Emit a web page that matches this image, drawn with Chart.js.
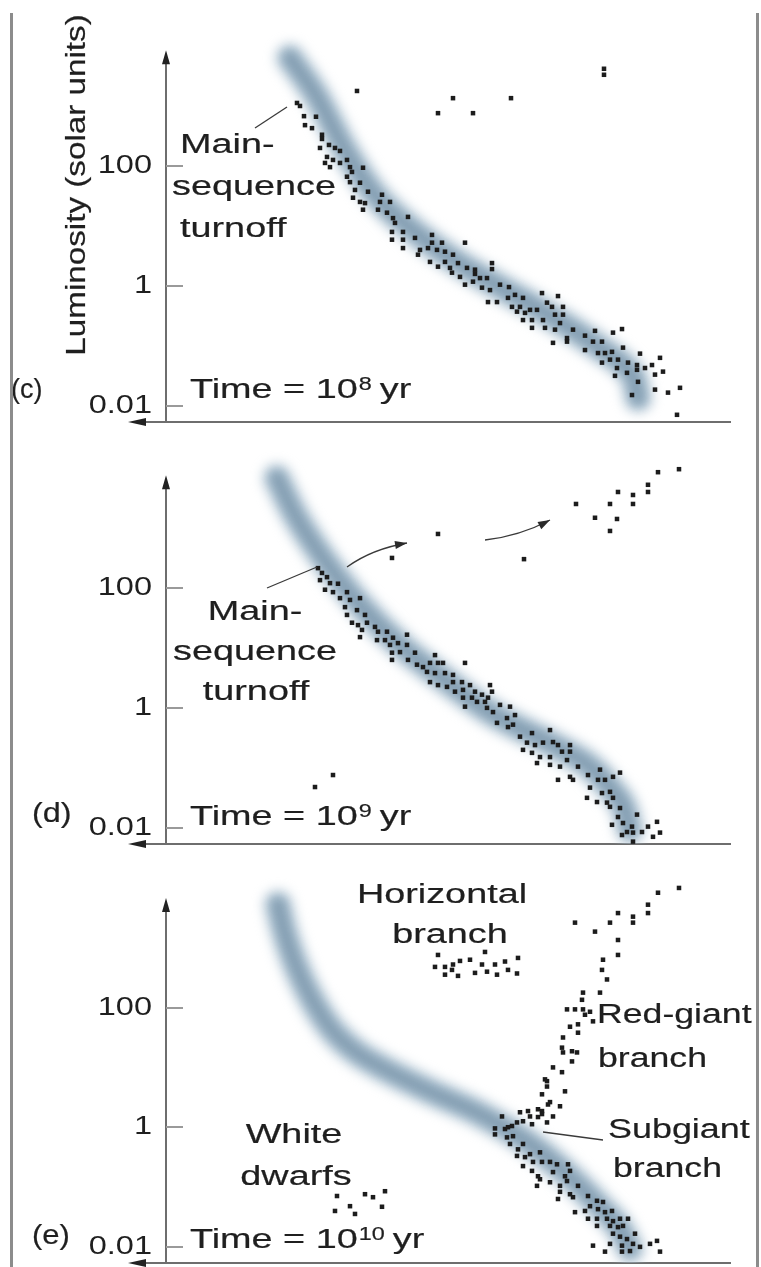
<!DOCTYPE html>
<html>
<head>
<meta charset="utf-8">
<script src="https://cdn.jsdelivr.net/npm/chart.js@4.4.0/dist/chart.umd.min.js"></script>
<style>
  html, body { margin: 0; padding: 0; background: #fff; }
  #page { position: relative; width: 761px; height: 1267px; overflow: hidden; }
  #page canvas { position: absolute; left: 0; }
  .frame { position: absolute; top: 13px; width: 3px; height: 1254px; background: #8c8c8c; }
</style>
</head>
<body>
<div id="page">
  <canvas id="panelC" width="761" height="430" style="top:0px"></canvas>
  <canvas id="panelD" width="761" height="420" style="top:430px"></canvas>
  <canvas id="panelE" width="761" height="417" style="top:850px"></canvas>
  <div class="frame" style="left:10px"></div>
  <div class="frame" style="left:756px"></div>
</div>
<script>
// luminosity axis (solar units)
const tickValues = [0.01, 1, 100];
const tickLabels = ["0.01", "1", "100"];
const panelLetters = ["(c)", "(d)", "(e)"];
const panelExponents = ["8", "9", "10"];

// stars: [colour position (arbitrary, hot -> cool), log10 luminosity]
const cMainSeq = [
  [26.2,3.05],[26.8,3.00],[27.6,2.83],[30.0,2.82],[27.8,2.68],[29.2,2.63],[31.2,2.52],[31.2,2.45],[32.6,2.35],[30.8,2.30],
  [33.8,2.30],[34.8,2.25],[32.2,2.15],[33.4,2.10],[36.2,2.10],[31.8,2.05],[32.8,1.98],[34.8,2.05],[36.8,1.98],[37.2,1.90],
  [39.4,1.97],[36.2,1.82],[36.8,1.73],[38.8,1.72],[40.4,1.57],[37.8,1.60],[37.4,1.47],[38.8,1.40],[39.8,1.38],[39.4,1.27],
  [43.2,1.52],[42.8,1.40],[44.8,1.40],[42.4,1.27],[44.2,1.22],[45.4,1.13],[48.4,1.15],[45.8,1.05],[45.2,0.90],[47.4,0.90],
  [45.2,0.77],[47.4,0.77],[49.8,0.80],[47.4,0.63],[50.8,0.60],[50.4,0.52],[53.2,0.85],[53.2,0.72],[52.4,0.63],[55.2,0.72],
  [54.2,0.60],[55.8,0.57],[59.8,0.72],[57.4,0.52],[52.8,0.40],[54.4,0.32],[55.8,0.40],[56.8,0.30],[58.4,0.38],[60.2,0.30],
  [57.2,0.22],[58.8,0.15],[59.8,0.02],[61.4,0.07],[61.8,0.27],[62.8,0.13],[65.2,0.38],[65.2,0.28],[61.8,0.20],[64.2,0.13],
  [63.2,-0.03],[64.8,-0.07],[66.8,0.02],[68.6,-0.02],[64.4,-0.27],[66.2,-0.27],[68.4,-0.20],[69.8,-0.15],[71.4,-0.20],[69.2,-0.35],
  [70.8,-0.35],[70.2,-0.43],[71.8,-0.45],[72.8,-0.40],[74.2,-0.40],[71.4,-0.57],[73.2,-0.57],[73.2,-0.70],[75.2,-0.12],[78.4,-0.17],
  [76.2,-0.28],[77.2,-0.35],[79.4,-0.35],[77.8,-0.48],[79.4,-0.48],[75.4,-0.57],[75.8,-0.70],[77.8,-0.73],[78.8,-0.62],[81.4,-0.73],
  [80.2,-0.87],[80.2,-0.93],[77.4,-0.95],[83.8,-0.83],[85.8,-0.75],[85.4,-0.93],[87.2,-0.93],[83.8,-1.07],[86.4,-1.12],[87.8,-1.12],
  [89.2,-1.10],[89.4,-0.78],[91.2,-0.72],[91.4,-1.03],[94.8,-1.13],[87.2,-1.28],[88.8,-1.23],[90.4,-1.23],[92.4,-1.28],[94.2,-1.32],
  [90.2,-1.37],[92.2,-1.45],[89.8,-1.50],[94.2,-1.40],[95.8,-1.37],[97.2,-1.32],[98.8,-1.20],[99.4,-1.43],[97.8,-1.48],[94.4,-1.60],
  [97.8,-1.73],[100.4,-1.78],[102.8,-1.70],[93.2,-1.82],[102.2,-2.15]
];
const cGiants = [[38.2,3.25],[54.4,2.88],[57.4,3.13],[61.4,2.88],[69.0,3.13],[87.6,3.62],[87.6,3.52]];
const cBand = [
  [24.8,3.80],[30.0,3.18],[35.8,2.27],[41.8,1.52],[49.8,0.90],[58.2,0.40],[66.8,-0.02],
  [74.2,-0.37],[80.8,-0.70],[87.4,-1.07],[91.8,-1.35],[93.8,-1.60],[94.4,-1.87]
];

const dMainSeq = [
  [30.4,2.33],[31.2,2.25],[32.2,2.18],[30.8,2.13],[32.8,2.08],[34.4,2.07],[31.8,1.97],[33.4,1.93],[36.2,1.93],[34.8,1.83],
  [36.8,1.80],[38.8,1.83],[35.8,1.68],[38.2,1.63],[36.2,1.55],[39.8,1.55],[37.2,1.42],[38.4,1.38],[40.2,1.42],[39.2,1.30],
  [38.8,1.18],[41.8,1.35],[42.4,1.27],[44.2,1.27],[42.2,1.13],[43.8,1.13],[45.4,1.17],[44.8,1.05],[46.4,1.08],[48.2,1.22],
  [45.2,0.92],[46.8,0.93],[48.2,1.05],[45.2,0.80],[48.4,0.80],[49.8,0.92],[50.2,0.72],[51.4,0.68],[53.8,0.88],[52.8,0.75],
  [54.4,0.75],[55.4,0.75],[52.2,0.60],[53.8,0.58],[55.8,0.58],[59.8,0.75],[57.4,0.55],[52.8,0.43],[54.4,0.38],[56.2,0.35],
  [57.4,0.43],[59.2,0.43],[57.8,0.27],[59.4,0.30],[60.8,0.38],[61.8,0.27],[59.4,0.17],[61.2,0.17],[63.2,0.22],[64.8,0.38],
  [65.2,0.27],[62.2,0.10],[63.8,0.10],[59.8,0.02],[64.2,0.00],[65.4,-0.07],[64.4,0.17],[66.8,0.05],[68.8,0.02],[66.2,-0.25],
  [68.2,-0.17],[69.8,-0.12],[68.4,-0.32],[69.4,-0.28],[70.8,-0.48],[73.2,-0.42],[72.2,-0.58],[73.8,-0.62],[75.4,-0.58],[76.8,-0.37],
  [77.4,-0.57],[78.4,-0.62],[80.8,-0.62],[71.4,-0.70],[73.2,-0.75],[74.8,-0.82],[74.2,-0.92],[76.8,-0.82],[76.8,-0.95],[79.2,-0.73],
  [80.8,-0.73],[80.2,-0.87],[78.8,-0.98],[82.4,-0.98],[78.4,-1.20],[80.8,-1.15],[81.4,-1.20],[84.4,-1.12],[86.8,-1.03],[86.4,-1.20],
  [87.8,-1.20],[89.4,-1.15],[90.8,-1.08],[84.8,-1.33],[87.2,-1.42],[88.8,-1.40],[89.4,-1.50],[84.2,-1.50],[86.2,-1.57],[88.2,-1.58],
  [88.8,-1.65],[90.8,-1.67],[90.4,-1.82],[94.2,-1.78],[89.2,-1.95],[91.4,-1.92],[92.2,-2.07],[93.2,-1.98],[93.4,-2.08],[95.2,-2.07],
  [96.4,-1.98],[98.2,-1.90],[97.4,-2.15],[98.8,-2.08],[93.4,-2.23],[91.2,-2.12]
];
const dGiants = [
  [45.2,2.50],[54.4,2.90],[71.6,2.48],[82.0,3.40],[85.8,3.17],[88.8,3.40],[90.2,3.15],[88.8,2.95],
  [90.4,3.60],[93.4,3.55],[93.4,3.40],[96.4,3.72],[96.4,3.60],[98.4,3.93],[102.6,3.98]
];
const dDwarfs = [[29.8,-1.32],[33.4,-1.12]];
const dBand = [
  [22.2,3.83],[25.8,3.22],[31.4,2.50],[38.8,1.72],[46.8,1.05],[55.8,0.47],[64.8,-0.07],
  [78.2,-0.65],[84.8,-0.98],[89.2,-1.37],[91.8,-1.70],[92.8,-2.03]
];

const eMainSeq = [
  [67.2,0.18],[65.8,-0.02],[65.8,-0.12],[68.4,0.00],[68.2,-0.17],[69.4,-0.15],[68.8,-0.28],[70.4,-0.37],[71.4,-0.28],[70.2,-0.48],
  [71.8,-0.50],[72.8,-0.45],[74.8,-0.42],[73.4,-0.58],[75.2,-0.58],[71.4,-0.65],[73.2,-0.73],[74.4,-0.82],[76.8,-0.58],[78.2,-0.62],
  [80.4,-0.62],[80.8,-0.73],[77.4,-0.75],[79.8,-0.82],[74.8,-0.87],[76.8,-0.92],[74.2,-0.98],[78.8,-0.98],[80.2,-0.90],[82.4,-0.98],
  [78.8,-1.08],[80.8,-1.12],[81.4,-1.17],[78.4,-1.20],[84.4,-1.15],[86.2,-1.23],[87.4,-1.25],[81.8,-1.42],[83.8,-1.40],[84.8,-1.32],
  [86.4,-1.37],[87.8,-1.42],[89.2,-1.40],[84.4,-1.53],[86.2,-1.53],[88.2,-1.53],[89.4,-1.57],[90.8,-1.53],[92.4,-1.53],[86.2,-1.65],
  [88.8,-1.65],[90.4,-1.67],[91.4,-1.65],[93.8,-1.78],[89.4,-1.78],[90.8,-1.83],[92.2,-1.87],[85.4,-1.98],[88.8,-1.95],[91.2,-1.98],
  [93.4,-1.95],[94.8,-2.00],[96.8,-1.95],[98.2,-1.90],[87.8,-2.08],[91.2,-2.08],[92.8,-2.07],[98.8,-2.08]
];
const eRedGiants = [
  [70.8,0.25],[72.4,0.27],[72.8,0.18],[74.4,0.17],[70.2,0.08],[71.4,0.10],[73.2,0.05],[76.2,0.08],[77.4,0.18],[75.2,0.27],
  [76.4,0.38],[78.8,0.35],[75.2,0.55],[76.2,0.68],[76.2,0.77],[79.8,0.60],[69.2,0.02],[67.8,-0.03],[74.4,0.30],[75.2,0.22],
  [76.8,0.42],[75.8,0.80],[79.2,0.92],[77.4,1.00],[81.2,1.10],[81.2,1.27],[82.2,1.25],[79.4,1.25],[79.2,1.33],[79.4,1.50],
  [82.4,1.58],[82.4,1.72],[80.8,1.68],[85.4,1.77],[83.8,1.88],[84.8,1.93],[83.4,1.97],[81.8,1.97],[80.2,1.97],[83.2,2.13],
  [83.4,2.25],[86.8,2.25],[88.2,2.47],[87.2,2.63],[87.4,2.80],[90.4,2.88],[90.4,3.13],[81.8,3.42],[85.8,3.27],[88.8,3.42],
  [90.4,3.58],[93.4,3.52],[93.4,3.42],[96.4,3.72],[96.4,3.58],[98.4,3.92],[102.6,4.00]
];
const eHorizontal = [
  [54.4,2.88],[53.8,2.68],[55.8,2.68],[55.8,2.55],[57.4,2.72],[58.4,2.53],[58.8,2.78],[60.8,2.80],[61.8,2.58],[63.8,2.93],
  [63.2,2.72],[64.2,2.60],[65.8,2.72],[66.2,2.55],[67.8,2.77],[68.4,2.63],[70.2,2.57],[70.4,2.83],[57.2,2.63]
];
const eWhiteDwarfs = [[34.2,-1.15],[39.8,-1.12],[41.4,-1.17],[43.8,-1.07],[33.8,-1.40],[36.8,-1.32],[37.8,-1.45],[43.2,-1.33]];
const eBand = [
  [22.4,3.72],[23.6,3.30],[25.2,2.88],[27.2,2.47],[29.8,2.05],[33.2,1.63],[37.8,1.27],[43.8,0.97],[52.8,0.60],
  [62.8,0.22],[72.8,-0.28],[80.8,-0.83],[86.8,-1.33],[90.8,-1.70],[92.8,-2.03]
];

const ink = "#1f1f1f";
const family = '"Liberation Sans", Arial, Helvetica, sans-serif';

function toPoints(list) {
  return list.map((p) => ({ x: p[0], y: Math.pow(10, p[1]) }));
}

function drawText(ctx, str, x, y, o) {
  o = o || {};
  const size = o.size || 27;
  const sx = o.sx || 1.4;
  ctx.save();
  ctx.font = size + "px " + family;
  const w = ctx.measureText(str).width * sx;
  const left = o.align === "center" ? x - w / 2 : x;
  ctx.translate(left, y);
  ctx.scale(sx, 1);
  ctx.fillStyle = ink;
  ctx.strokeStyle = ink;
  ctx.lineWidth = 0.2;
  ctx.textAlign = "left";
  ctx.textBaseline = "alphabetic";
  ctx.fillText(str, 0, 0);
  ctx.strokeText(str, 0, 0);
  ctx.restore();
  return left + w;
}

function arrowHead(ctx, x, y, angle, len, half) {
  ctx.save();
  ctx.translate(x, y);
  ctx.rotate(angle);
  ctx.beginPath();
  ctx.moveTo(0, 0);
  ctx.lineTo(-len, -half);
  ctx.lineTo(-len, half);
  ctx.closePath();
  ctx.fill();
  ctx.restore();
}

// wider tick digits, like the printed figure
const stretchTicks = {
  id: "stretchTicks",
  afterUpdate(chart) {
    const s = chart.scales.y;
    if (s._stretched) return;
    const orig = s.drawLabels.bind(s);
    s.drawLabels = function (area) {
      const ctx = this.ctx;
      const r = this.right - 14;
      ctx.save();
      ctx.translate(r, 0);
      ctx.scale(1.25, 1);
      ctx.translate(-r, 0);
      orig(area);
      ctx.restore();
    };
    s._stretched = true;
  },
};

// soft edge for the main-sequence band
const bandBlur = {
  id: "bandBlur",
  beforeDatasetDraw(chart, args) {
    const b = chart.data.datasets[args.index].blur;
    if (b) {
      chart.ctx.save();
      chart.ctx.filter = "blur(" + b + "px)";
    }
  },
  afterDatasetDraw(chart, args) {
    if (chart.data.datasets[args.index].blur) chart.ctx.restore();
  },
};

function makeAxes(panel) {
  return {
    id: "hrAxes",
    beforeDatasetsDraw(chart) {
      const ctx = chart.ctx;
      const a = chart.chartArea;
      const y = chart.scales.y;
      const tipY = y.getPixelForValue(Math.pow(10, panel.arrowTip));
      ctx.save();
      ctx.strokeStyle = "#6e6e6e";
      ctx.lineWidth = 2;
      ctx.beginPath();
      ctx.moveTo(a.left, a.bottom);
      ctx.lineTo(a.left, tipY + 12);
      ctx.moveTo(a.left - 22, a.bottom);
      ctx.lineTo(a.right, a.bottom);
      ctx.stroke();
      ctx.fillStyle = "#222";
      arrowHead(ctx, a.left, tipY, -Math.PI / 2, 14, 4);
      arrowHead(ctx, a.left - 38, a.bottom, Math.PI, 18, 4);
      ctx.strokeStyle = "#9a9a9a";
      y.ticks.forEach((t) => {
        const py = Math.round(y.getPixelForValue(t.value));
        ctx.beginPath();
        ctx.moveTo(a.left, py);
        ctx.lineTo(a.left + 17, py);
        ctx.stroke();
      });
      ctx.restore();
    },
  };
}

function makeNotes(panel) {
  return {
    id: "hrNotes",
    afterDraw(chart) {
      const ctx = chart.ctx;
      ctx.save();
      ctx.translate(0, -panel.top);
      ctx.strokeStyle = "#3a3a3a";
      ctx.fillStyle = "#2a2a2a";
      ctx.lineWidth = 1.3;
      panel.lines.forEach((l) => {
        ctx.beginPath();
        ctx.moveTo(l[0], l[1]);
        ctx.lineTo(l[2], l[3]);
        ctx.stroke();
      });
      panel.arrows.forEach((ar) => {
        ctx.beginPath();
        ctx.moveTo(ar.from[0], ar.from[1]);
        ctx.quadraticCurveTo(ar.ctrl[0], ar.ctrl[1], ar.to[0], ar.to[1]);
        ctx.stroke();
        const ang = Math.atan2(ar.to[1] - ar.ctrl[1], ar.to[0] - ar.ctrl[0]);
        arrowHead(ctx, ar.to[0], ar.to[1], ang, 12, 4);
      });
      panel.texts.forEach((t) => drawText(ctx, t.t, t.x, t.y, t));

      const tm = panel.time;
      let x = drawText(ctx, "Time = 10", tm.x, tm.y);
      x = drawText(ctx, tm.exp, x + 1, tm.y - 8, { size: 18, sx: 1.3 });
      drawText(ctx, "yr", x + 8, tm.y);

      if (panel.yTitle) {
        ctx.save();
        ctx.translate(85, 185);
        ctx.rotate(-Math.PI / 2);
        ctx.scale(1.23, 1);
        ctx.font = "27px " + family;
        ctx.fillStyle = ink;
        ctx.strokeStyle = ink;
        ctx.lineWidth = 0.2;
        ctx.textAlign = "center";
        ctx.fillText(panel.yTitle, 0, 0);
        ctx.strokeText(panel.yTitle, 0, 0);
        ctx.restore();
      }
      ctx.restore();
    },
  };
}

const panels = [
  {
    id: "panelC", top: 0, padTop: 28, padBottom: 8, arrowTip: 3.93,
    groups: [cMainSeq, cGiants], band: cBand,
    yTitle: "Luminosity (solar units)",
    texts: [
      { t: panelLetters[0], x: 11, y: 398, sx: 1.0 },
      { t: "Main-", x: 180, y: 153 },
      { t: "sequence", x: 172, y: 195 },
      { t: "turnoff", x: 180, y: 237 },
    ],
    lines: [[255, 128, 287, 107]],
    arrows: [],
    time: { exp: panelExponents[0], x: 190, y: 398 },
  },
  {
    id: "panelD", top: 430, padTop: 20, padBottom: 6, arrowTip: 3.88,
    groups: [dMainSeq, dGiants, dDwarfs], band: dBand,
    texts: [
      { t: panelLetters[1], x: 32, y: 822, sx: 1.2 },
      { t: "Main-", x: 255, y: 620, align: "center" },
      { t: "sequence", x: 255, y: 660, align: "center" },
      { t: "turnoff", x: 256, y: 700, align: "center" },
    ],
    lines: [[267, 588, 317, 567]],
    arrows: [
      { from: [347, 567], ctrl: [372, 549], to: [407, 543] },
      { from: [485, 540], ctrl: [520, 536], to: [550, 520] },
    ],
    time: { exp: panelExponents[1], x: 190, y: 825 },
  },
  {
    id: "panelE", top: 850, padTop: 20, padBottom: 3, arrowTip: 3.83,
    groups: [eMainSeq, eRedGiants, eHorizontal, eWhiteDwarfs], band: eBand,
    texts: [
      { t: panelLetters[2], x: 32, y: 1244, sx: 1.15 },
      { t: "White", x: 294, y: 1143, align: "center" },
      { t: "dwarfs", x: 296, y: 1185, align: "center" },
      { t: "Horizontal", x: 442, y: 903, align: "center" },
      { t: "branch", x: 450, y: 943, align: "center" },
      { t: "Red-giant", x: 597, y: 1023, sx: 1.32 },
      { t: "branch", x: 598, y: 1067, sx: 1.32 },
      { t: "Subgiant", x: 608, y: 1138, sx: 1.33 },
      { t: "branch", x: 613, y: 1177, sx: 1.32 },
    ],
    lines: [[543, 1132, 603, 1140]],
    arrows: [],
    time: { exp: panelExponents[2], x: 190, y: 1248 },
  },
];

panels.forEach((p) => {
  const starSets = p.groups.map((g) => ({
    type: "scatter",
    data: toPoints(g),
    pointStyle: "rect",
    pointRadius: 3.2,
    backgroundColor: "#1c1c1c",
    borderWidth: 0,
    order: 1,
  }));
  const bandPoints = toPoints(p.band);
  const bandLine = (color, width, blur, order) => ({
    type: "line",
    data: bandPoints,
    borderColor: color,
    borderWidth: width,
    borderCapStyle: "round",
    borderJoinStyle: "round",
    pointRadius: 0,
    cubicInterpolationMode: "monotone",
    fill: false,
    blur: blur,
    order: order,
  });
  const ctx = document.getElementById(p.id).getContext("2d");
  new Chart(ctx, {
    type: "scatter",
    data: {
      datasets: starSets.concat([
        bandLine("rgb(168,190,206)", 28, 6, 3),
        bandLine("rgb(132,158,178)", 12, 5, 2),
      ]),
    },
    options: {
      responsive: false,
      animation: false,
      devicePixelRatio: 1,
      layout: { padding: { left: 0, right: 30, top: p.padTop, bottom: p.padBottom } },
      plugins: { legend: { display: false }, tooltip: { enabled: false } },
      scales: {
        x: { type: "linear", min: 0, max: 113, display: false },
        y: {
          type: "logarithmic",
          min: Math.pow(10, -2.27),
          max: Math.pow(10, 4.3),
          afterBuildTicks: (s) => {
            s.ticks = tickValues.map((v) => ({ value: v }));
          },
          afterFit: (s) => {
            s.width = 166;
            s.paddingTop = 0;
            s.paddingBottom = 0;
          },
          grid: { display: false, drawTicks: false },
          border: { display: false },
          ticks: {
            padding: 14,
            color: ink,
            font: { family: family, size: 26 },
            callback: (v, i) => tickLabels[i],
          },
        },
      },
    },
    plugins: [stretchTicks, bandBlur, makeAxes(p), makeNotes(p)],
  });
});
</script>
</body>
</html>
